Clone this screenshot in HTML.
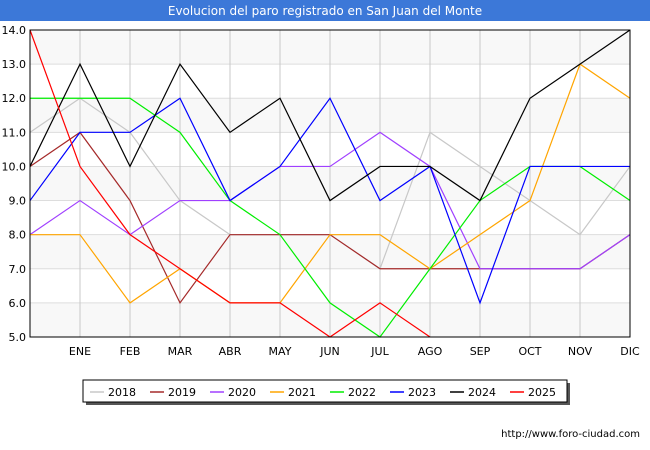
<!DOCTYPE html>
<html><head><meta charset="utf-8"><style>
body{margin:0;width:650px;height:450px;background:#fff;font-family:"DejaVu Sans","Liberation Sans",sans-serif;overflow:hidden}
svg text{font-family:"DejaVu Sans","Liberation Sans",sans-serif}
</style></head><body>
<svg width="650" height="450" style="position:absolute;left:0;top:0">
<rect x="0" y="0" width="650" height="450" fill="#fff"/>
<rect x="0" y="0" width="650" height="21" fill="#3c78d8"/>
<text x="325" y="15" text-anchor="middle" font-size="12" fill="#fff">Evolucion del paro registrado en San Juan del Monte</text>
<g id="grid"></g><g id="series"></g>
<rect x="30" y="30" width="600" height="307" fill="none" stroke="#000" stroke-width="1"/>
<g id="legend"></g>
<text x="640" y="437" text-anchor="end" font-size="10" fill="#000">http://www.foro-ciudad.com</text>
</svg>
<script>
const months=["","ENE","FEB","MAR","ABR","MAY","JUN","JUL","AGO","SEP","OCT","NOV","DIC"];
const yTicks=[5,6,7,8,9,10,11,12,13,14];
const names=["2018","2019","2020","2021","2022","2023","2024","2025"];
const colors=["#c8c8c8","#a52a2a","#a040ff","#ffa500","#00ee00","#0000ff","#000000","#ff0000"];
const s2018=[11,12,11,9,8,8,8,7,11,10,9,8,10];
const s2019=[10,11,9,6,8,8,8,7,7,7,7,7,8];
const s2020=[8,9,8,9,9,10,10,11,10,7,7,7,8];
const s2021=[8,8,6,7,6,6,8,8,7,8,9,13,12];
const s2022=[12,12,12,11,9,8,6,5,7,9,10,10,9];
const s2023=[9,11,11,12,9,10,12,9,10,6,10,10,10];
const s2024=[10,13,10,13,11,12,9,10,10,9,12,13,14];
const s2025=[14,10,8,7,6,6,5,6,5];
const series=[s2018,s2019,s2020,s2021,s2022,s2023,s2024,s2025];
const NS="http://www.w3.org/2000/svg";
const X=i=>30+i*50, Y=v=>337-(v-5)*(307/9);
function mk(t,a,p){const e=document.createElementNS(NS,t);for(const k in a)e.setAttribute(k,a[k]);p.appendChild(e);return e;}
const g=document.getElementById('grid');
for(let i=0;i<9;i++){if(i%2==0){const r=mk('rect',{x:30,y:Y(yTicks[i+1]),width:600,height:Y(yTicks[i])-Y(yTicks[i+1]),fill:'#f8f8f8'},g);

}}
yTicks.forEach(v=>{const l=mk('line',{x1:30,x2:630,y1:Y(v),y2:Y(v),stroke:'#dddddd'},g);


const t=mk('text',{x:26,y:Y(v)+4,'text-anchor':'end','font-size':11},g);t.textContent=v.toFixed(1);

});
months.forEach((m,i)=>{if(i==0)return;const l=mk('line',{x1:X(i),x2:X(i),y1:30,y2:337,stroke:'#c8c8c8'},g);


const t=mk('text',{x:X(i),y:355,'text-anchor':'middle','font-size':11},g);t.textContent=m;

});
const sg=document.getElementById('series');
series.forEach((s,k)=>{const p=mk('polyline',{points:s.map((v,i)=>X(i)+','+Y(v)).join(' '),fill:'none',stroke:colors[k],'stroke-width':1.2},sg);

});
const lg=document.getElementById('legend');
mk('rect',{x:86,y:383,width:484,height:22,fill:'#555'},lg);
const lb=mk('rect',{x:83,y:380,width:484,height:22,fill:'#fff',stroke:'#000'},lg);


names.forEach((n,k)=>{const x=90+k*60;const l=mk('line',{x1:x,x2:x+14,y1:392,y2:392,stroke:colors[k],'stroke-width':1.5},lg);


const t=mk('text',{x:x+18,y:396,'font-size':11},lg);t.textContent=n;

});
</script>
</body></html>
